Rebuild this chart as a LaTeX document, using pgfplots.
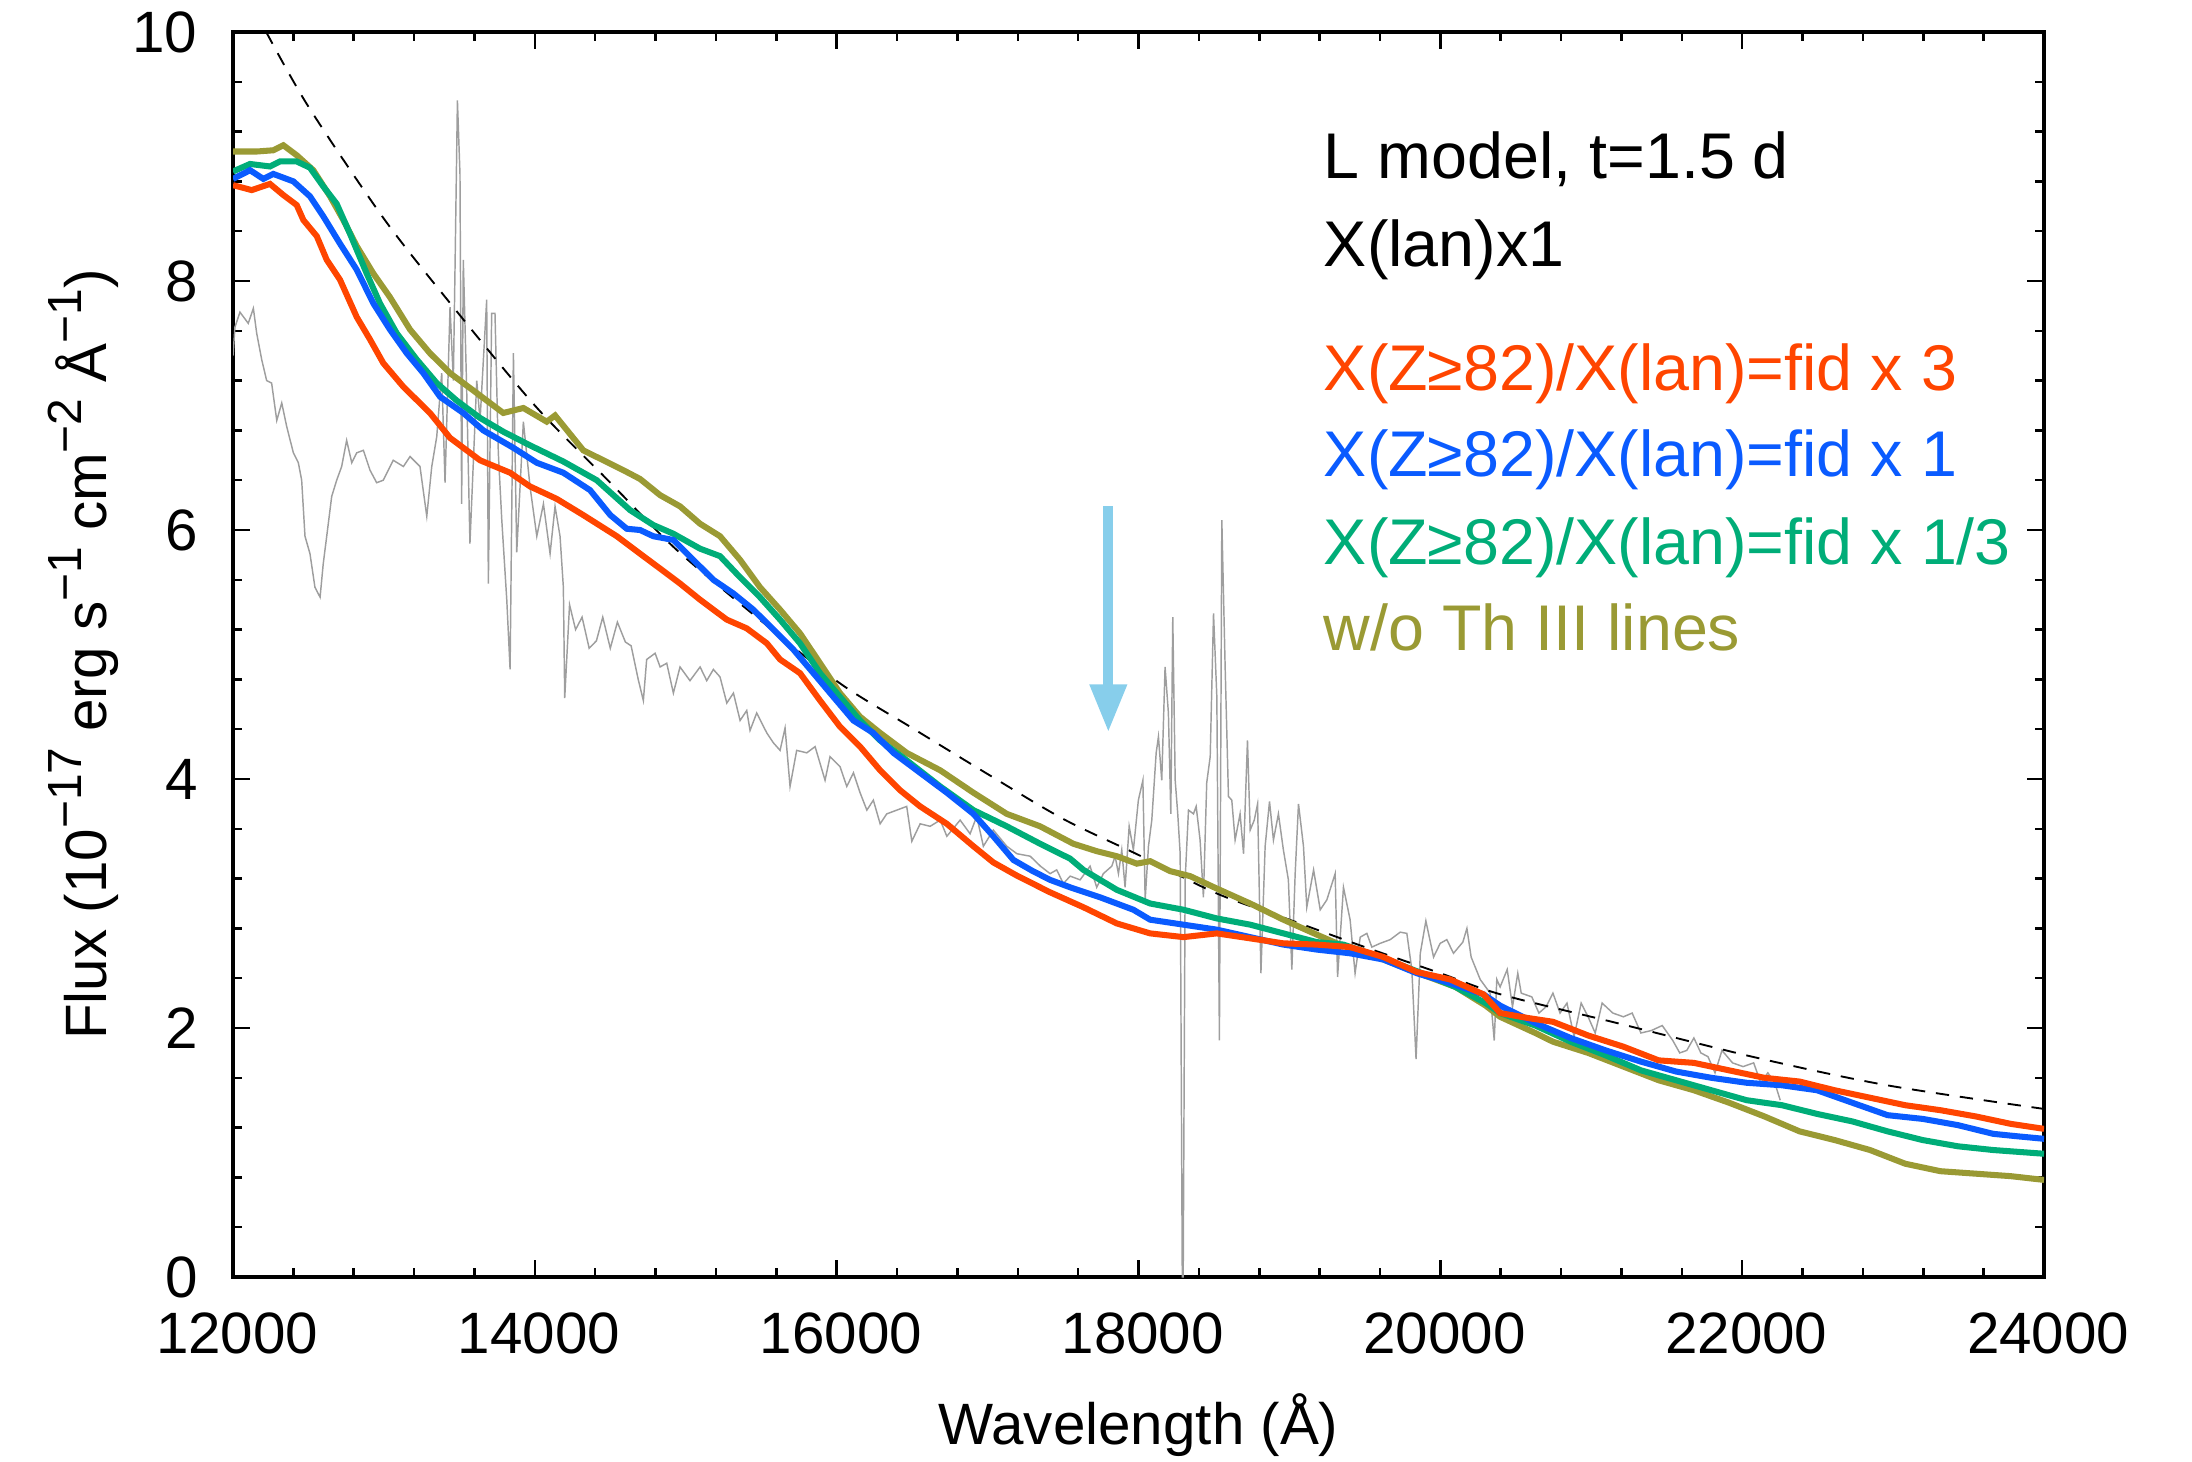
\documentclass[border=0pt]{standalone}
\usepackage{fontspec}
\setmainfont{Liberation Sans}
\usepackage{pgfplots}
\pgfplotsset{compat=1.18}
\usetikzlibrary{arrows.meta}
\definecolor{cred}{HTML}{FF4500}
\definecolor{cblue}{HTML}{0A5BFF}
\definecolor{cgreen}{HTML}{00AD78}
\definecolor{colive}{HTML}{9A9A34}
\definecolor{cgray}{HTML}{9E9E9E}
\definecolor{carrow}{HTML}{87CEEB}
\newcommand{\supx}[1]{\raisebox{0.42em}{\fontsize{11.5}{12}\selectfont #1}}
\begin{document}
\begin{tikzpicture}
\begin{axis}[
 scale only axis, width=434.64pt, height=298.8pt,
 xmin=12000, xmax=24000, ymin=0, ymax=10,
 xtick={12000,14000,...,24000}, ytick={0,2,...,10}, minor tick num=4,
 scaled x ticks=false, scaled y ticks=false,
 tick align=inside, major tick length=4.1pt, minor tick length=2.2pt,
 every tick/.style={black, line width=0.6pt},
 axis line style={line width=0.8pt},
 /pgf/number format/1000 sep={}, /pgf/number format/assume math mode=true,
 tick label style={font=\fontsize{14}{16}\selectfont},
 xticklabel style={yshift=-5pt, xshift=1pt}, yticklabel style={xshift=-5pt},
 label style={font=\fontsize{14}{16}\selectfont},
 xlabel={Wavelength (Å)}, xlabel shift=2.7pt, ylabel shift=-3.4pt,
 ylabel={Flux (10\supx{−17} erg s\supx{−1} cm\supx{−2} Å\supx{−1})},
]
\coordinate (sw) at (rel axis cs:0,0);
\coordinate (ne) at (rel axis cs:1,1);
% observed spectrum
\addplot[cgray, line width=0.35pt] coordinates {
(12000,7.40)(12013,7.63)(12046,7.75)(12101,7.66)(12135,7.78)(12157,7.58)(12190,7.37)(12223,7.20)(12256,7.18)(12290,6.88)
(12323,7.02)(12356,6.83)(12400,6.62)(12433,6.54)(12455,6.40)(12477,5.95)(12510,5.81)(12543,5.54)(12577,5.46)(12598,5.73)
(12621,5.95)(12654,6.27)(12687,6.40)(12720,6.51)(12753,6.72)(12787,6.54)(12820,6.62)(12864,6.64)(12908,6.48)(12952,6.38)
(12996,6.40)(13062,6.56)(13129,6.51)(13173,6.59)(13239,6.51)(13284,6.11)(13317,6.51)(13350,6.75)(13383,7.26)(13405,6.38)
(13438,7.79)(13460,7.20)(13471,8.09)(13487,9.45)(13504,8.86)(13515,6.21)(13526,8.17)(13548,7.15)(13570,5.89)(13615,7.20)
(13637,6.88)(13681,7.85)(13692,5.57)(13714,7.74)(13736,7.74)(13758,6.62)(13781,6.08)(13814,5.44)(13836,4.88)(13858,7.42)
(13880,5.82)(13924,6.87)(13968,6.35)(14013,5.95)(14057,6.21)(14101,5.81)(14134,6.19)(14167,5.95)(14189,5.54)(14198,4.65)
(14230,5.40)(14270,5.20)(14313,5.30)(14360,5.05)(14408,5.11)(14450,5.30)(14500,5.05)(14547,5.26)(14600,5.10)(14638,5.07)
(14685,4.80)(14719,4.63)(14741,4.96)(14797,5.01)(14830,4.90)(14874,4.93)(14918,4.69)(14962,4.90)(15028,4.79)(15095,4.90)
(15139,4.79)(15183,4.88)(15227,4.82)(15272,4.61)(15316,4.69)(15360,4.47)(15404,4.55)(15426,4.39)(15470,4.53)(15537,4.37)
(15581,4.29)(15625,4.23)(15658,4.41)(15691,3.94)(15735,4.23)(15802,4.21)(15857,4.26)(15923,3.99)(15956,4.18)(16022,4.10)
(16067,3.94)(16111,4.05)(16155,3.89)(16200,3.75)(16243,3.83)(16288,3.64)(16332,3.72)(16398,3.75)(16464,3.78)(16498,3.50)
(16553,3.64)(16619,3.62)(16686,3.67)(16730,3.54)(16818,3.67)(16884,3.56)(16928,3.70)(16972,3.46)(17038,3.59)(17127,3.46)
(17194,3.40)(17282,3.38)(17350,3.30)(17414,3.24)(17458,3.27)(17502,3.16)(17547,3.22)(17613,3.19)(17679,3.30)(17723,3.13)
(17767,3.24)(17823,3.30)(17845,3.38)(17867,3.24)(17889,3.43)(17911,3.13)(17938,3.62)(17966,3.43)(17999,3.83)(18029,3.99)
(18044,3.03)(18066,3.46)(18088,3.67)(18117,4.21)(18132,4.34)(18154,3.99)(18176,4.90)(18198,4.53)(18214,3.72)(18227,5.30)
(18243,3.99)(18260,3.72)(18276,3.40)(18290,0.0)(18296,0.0)(18309,3.19)(18331,3.75)(18364,3.72)(18382,3.78)(18408,3.51)
(18430,3.05)(18452,3.97)(18475,4.18)(18497,5.33)(18519,4.66)(18536,1.90)(18552,6.08)(18574,4.90)(18596,3.86)(18618,3.83)
(18640,3.51)(18673,3.72)(18696,3.40)(18722,4.31)(18740,3.59)(18767,3.67)(18789,3.80)(18811,2.44)(18839,3.46)(18868,3.82)
(18894,3.51)(18927,3.72)(18960,3.43)(18993,3.19)(19016,2.47)(19038,3.24)(19060,3.80)(19093,3.46)(19115,2.97)(19160,3.27)
(19204,2.95)(19248,3.03)(19303,3.24)(19319,2.41)(19358,3.13)(19402,2.87)(19435,2.44)(19469,2.73)(19513,2.76)(19546,2.65)
(19601,2.68)(19668,2.71)(19734,2.77)(19778,2.76)(19811,2.47)(19839,1.75)(19867,2.60)(19904,2.86)(19955,2.57)(19999,2.68)
(20043,2.71)(20087,2.60)(20149,2.69)(20176,2.80)(20204,2.57)(20264,2.39)(20330,2.28)(20357,1.90)(20374,2.39)(20396,2.33)
(20443,2.47)(20478,2.17)(20513,2.44)(20536,2.28)(20606,2.25)(20653,2.12)(20700,2.17)(20746,2.28)(20793,2.12)(20839,2.20)
(20886,1.93)(20933,2.20)(20979,2.09)(21026,1.96)(21072,2.20)(21143,2.12)(21213,2.09)(21271,2.12)(21329,1.96)(21399,1.98)
(21470,2.02)(21540,1.90)(21586,1.80)(21633,1.82)(21680,1.92)(21726,1.80)(21773,1.77)(21820,1.64)(21866,1.82)(21936,1.72)
(22006,1.69)(22076,1.72)(22123,1.56)(22170,1.64)(22216,1.56)(22252,1.42)
};
% blackbody-like dashed curve
\addplot[black, line width=0.45pt, dash pattern=on 3.2pt off 2.6pt, smooth] coordinates {
(12220,10.0)(12500,9.40)(13000,8.50)(13440,7.82)(14000,7.00)(14500,6.38)(14940,5.84)(15500,5.27)(16020,4.77)(16500,4.41)
(17000,4.04)(17500,3.68)(18000,3.39)(18520,3.08)(19000,2.87)(19500,2.65)(20000,2.44)(20400,2.27)(21170,2.04)(22100,1.76)
(22960,1.54)(24000,1.35)
};
% w/o Th III
\addplot[colive, line width=1.45pt] coordinates {
(12000,9.04)(12157,9.04)(12267,9.05)(12334,9.09)(12422,9.01)(12532,8.89)(12643,8.68)(12731,8.49)(12820,8.28)(12930,8.06)
(13040,7.87)(13173,7.61)(13305,7.42)(13438,7.26)(13615,7.10)(13791,6.94)(13924,6.98)(14079,6.87)(14134,6.92)(14321,6.64)
(14587,6.48)(14697,6.41)(14830,6.28)(14962,6.19)(15095,6.05)(15227,5.95)(15360,5.76)(15492,5.54)(15625,5.36)(15757,5.17)
(15890,4.93)(16022,4.69)(16155,4.50)(16288,4.37)(16464,4.21)(16686,4.07)(16906,3.89)(17127,3.72)(17348,3.62)(17568,3.48)
(17724,3.42)(17856,3.38)(17989,3.32)(18077,3.34)(18210,3.26)(18342,3.22)(18519,3.12)(18740,3.00)(18960,2.87)(19181,2.75)
(19314,2.68)(19600,2.56)(19900,2.42)(20100,2.33)(20300,2.18)(20396,2.09)(20629,1.96)(20746,1.89)(20979,1.80)(21213,1.69)
(21447,1.58)(21680,1.50)(21913,1.40)(22147,1.29)(22380,1.17)(22613,1.10)(22847,1.02)(23080,0.91)(23313,0.85)(23547,0.83)
(23780,0.81)(24000,0.78)
};
% fid x 1/3
\addplot[cgreen, line width=1.45pt] coordinates {
(12000,8.88)(12113,8.94)(12245,8.92)(12311,8.96)(12422,8.96)(12510,8.91)(12598,8.76)(12687,8.62)(12775,8.38)(12886,8.06)
(12974,7.82)(13085,7.58)(13217,7.37)(13350,7.18)(13482,7.04)(13637,6.90)(13791,6.79)(13968,6.68)(14189,6.55)(14410,6.40)
(14631,6.16)(14785,6.04)(14918,5.97)(15095,5.85)(15227,5.79)(15360,5.62)(15492,5.46)(15625,5.28)(15757,5.09)(15890,4.85)
(16022,4.66)(16155,4.47)(16288,4.31)(16464,4.15)(16686,3.94)(16906,3.75)(17127,3.62)(17348,3.48)(17547,3.36)(17635,3.27)
(17856,3.11)(18077,3.00)(18298,2.95)(18519,2.88)(18740,2.83)(18960,2.76)(19181,2.69)(19358,2.67)(19600,2.57)(19900,2.43)
(20100,2.33)(20300,2.20)(20396,2.12)(20629,2.02)(20863,1.89)(21096,1.78)(21329,1.66)(21563,1.58)(21796,1.50)(22030,1.42)
(22263,1.38)(22496,1.31)(22729,1.25)(22963,1.17)(23196,1.10)(23429,1.05)(23663,1.02)(24000,0.99)
};
% fid x 1
\addplot[cblue, line width=1.45pt] coordinates {
(12000,8.82)(12113,8.89)(12201,8.82)(12267,8.86)(12400,8.80)(12510,8.68)(12598,8.52)(12709,8.30)(12820,8.09)(12930,7.82)
(13040,7.61)(13151,7.42)(13261,7.26)(13372,7.07)(13526,6.94)(13659,6.80)(13858,6.66)(14013,6.54)(14189,6.46)(14366,6.32)
(14500,6.12)(14609,6.01)(14697,6.00)(14785,5.95)(14918,5.92)(15050,5.76)(15183,5.60)(15316,5.49)(15448,5.36)(15581,5.20)
(15713,5.04)(15846,4.85)(15978,4.66)(16111,4.47)(16243,4.37)(16376,4.21)(16553,4.05)(16730,3.89)(16906,3.72)(17038,3.54)
(17171,3.35)(17300,3.26)(17414,3.19)(17547,3.13)(17745,3.05)(17966,2.95)(18077,2.87)(18298,2.83)(18519,2.79)(18740,2.73)
(18960,2.67)(19181,2.63)(19402,2.60)(19623,2.55)(19844,2.44)(20065,2.36)(20286,2.27)(20396,2.18)(20629,2.04)(20863,1.92)
(21096,1.82)(21329,1.73)(21563,1.65)(21796,1.60)(22030,1.56)(22263,1.54)(22496,1.50)(22729,1.40)(22963,1.30)(23196,1.27)
(23429,1.22)(23663,1.15)(23826,1.13)(24000,1.11)
};
% fid x 3
\addplot[cred, line width=1.45pt] coordinates {
(12000,8.77)(12124,8.73)(12245,8.78)(12334,8.69)(12422,8.61)(12466,8.49)(12555,8.36)(12621,8.17)(12709,8.01)(12820,7.71)
(12908,7.53)(12996,7.34)(13129,7.15)(13305,6.94)(13438,6.74)(13637,6.56)(13836,6.46)(13968,6.35)(14145,6.25)(14321,6.12)
(14543,5.95)(14697,5.81)(14830,5.69)(14962,5.57)(15095,5.44)(15183,5.36)(15272,5.28)(15404,5.21)(15537,5.09)(15625,4.96)
(15757,4.85)(15890,4.63)(16022,4.42)(16155,4.26)(16288,4.07)(16420,3.91)(16553,3.78)(16730,3.64)(16906,3.46)(17038,3.33)
(17200,3.22)(17414,3.09)(17635,2.97)(17856,2.84)(18077,2.76)(18298,2.73)(18519,2.76)(18740,2.72)(18960,2.68)(19181,2.67)
(19402,2.65)(19623,2.57)(19844,2.45)(20065,2.39)(20286,2.27)(20396,2.12)(20582,2.08)(20746,2.05)(20979,1.94)(21213,1.85)
(21447,1.74)(21680,1.72)(21913,1.66)(22147,1.60)(22380,1.57)(22613,1.50)(22847,1.44)(23080,1.38)(23313,1.34)(23547,1.29)
(23780,1.23)(24000,1.19)
};
\draw[carrow, line width=2.4pt, -{Triangle[width=8.4pt,length=11.5pt]}] (axis cs:17800,6.19) -- (axis cs:17800,4.375);
\begin{scope}[every node/.style={anchor=base west, inner sep=0pt, font=\fontsize{15.5}{18}\selectfont}]
\node at (axis cs:19223,8.82) {L model, t=1.5 d};
\node at (axis cs:19223,8.12) {X(lan)x1};
\node[text=cred] at (axis cs:19223,7.12) {X(Z≥82)/X(lan)=fid x 3};
\node[text=cblue] at (axis cs:19223,6.43) {X(Z≥82)/X(lan)=fid x 1};
\node[text=cgreen] at (axis cs:19223,5.72) {X(Z≥82)/X(lan)=fid x 1/3};
\node[text=colive] at (axis cs:19223,5.03) {w/o Th III lines};
\end{scope}
\end{axis}
\pgfresetboundingbox
\path ([xshift=-55.92pt,yshift=-44.16pt]sw) rectangle ([xshift=35.52pt,yshift=7.68pt]ne);
\end{tikzpicture}
\end{document}
